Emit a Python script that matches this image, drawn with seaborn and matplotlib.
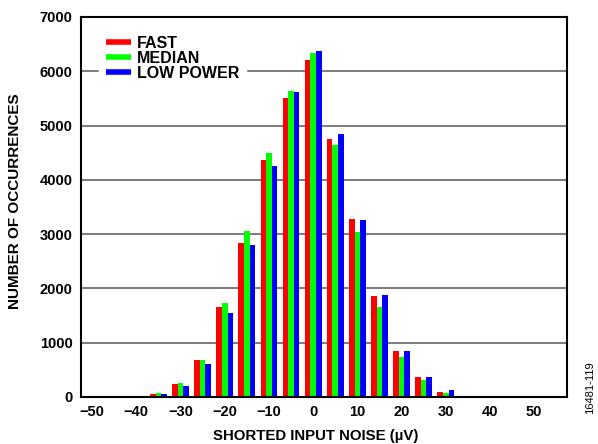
import numpy as np
import pandas as pd
import seaborn as sns
import matplotlib
matplotlib.use("Agg")
import matplotlib.pyplot as plt
from matplotlib.lines import Line2D
from matplotlib.ticker import FixedLocator

bins = [-50, -45, -40, -35, -30, -25, -20, -15, -10, -5, 0, 5, 10, 15, 20, 25, 30, 35, 40, 45, 50, 55]
fast = [0, 20, 18, 55, 240, 680, 1660, 2845, 4360, 5500, 6210, 4755, 3270, 1855, 845, 360, 90, 20, 18, 15, 0, 0]
median = [0, 18, 18, 70, 255, 680, 1735, 3060, 4500, 5640, 6340, 4645, 3040, 1665, 740, 310, 65, 18, 18, 0, 0, 0]
low_power = [0, 20, 20, 50, 195, 605, 1555, 2805, 4260, 5620, 6370, 4850, 3265, 1870, 840, 360, 120, 20, 18, 0, 0, 0]
series_names = ["FAST", "MEDIAN", "LOW POWER"]
colors = ["#FF0000", "#00FF00", "#0000FF"]
xtick_labels = ["\u221250", "\u221240", "\u221230", "\u221220", "\u221210", "0", "10", "20", "30", "40", "50"]

df = pd.DataFrame({
    "bin": bins * 3,
    "count": fast + median + low_power,
    "mode": [series_names[0]] * len(bins) + [series_names[1]] * len(bins) + [series_names[2]] * len(bins),
})

sns.set_style("white")
plt.rcParams['font.family'] = ['Liberation Sans', 'DejaVu Sans']
plt.rcParams['font.weight'] = 'bold'
plt.rcParams['text.color'] = 'black'
plt.rcParams['axes.labelcolor'] = 'black'
plt.rcParams['xtick.color'] = 'black'
plt.rcParams['ytick.color'] = 'black'

fig = plt.figure(figsize=(5.98, 4.44), dpi=100)
ax = fig.add_axes([0.1355, 0.106, 0.8132, 0.8558])

sns.barplot(data=df, x="bin", y="count", hue="mode", order=bins, hue_order=series_names,
            palette=colors, saturation=1, width=0.76, ax=ax, legend=False, linewidth=0)

ax.set_xlim(-0.5, len(bins) - 0.5)
ax.set_ylim(0, 7000)
ax.set_yticks(range(0, 7001, 1000))
ax.yaxis.grid(True, color="#666666", linewidth=1.2)
ax.set_axisbelow(True)

label_pos = list(range(0, 21, 2))
ax.xaxis.set_major_locator(FixedLocator(label_pos))
ax.set_xticklabels(xtick_labels)
ax.xaxis.set_minor_locator(FixedLocator([i + 0.5 for i in range(0, 21)]))
ax.tick_params(axis="x", which="major", length=0, labelsize=10.5, pad=6)
ax.tick_params(axis="x", which="minor", length=5, direction="inout", width=1, color="black")
ax.tick_params(axis="y", which="major", length=0, labelsize=10.5, pad=6)
for lab in ax.get_xticklabels() + ax.get_yticklabels():
    lab.set_fontweight("bold")

for s in ax.spines.values():
    s.set_color("black")
    s.set_linewidth(1.5)

ax.set_xlabel("SHORTED INPUT NOISE (\u00b5V)", fontsize=10.8, fontweight="bold")
ax.xaxis.set_label_coords(0.4825, -0.084)
ax.set_ylabel("NUMBER OF OCCURRENCES", fontsize=11, fontweight="bold")
ax.yaxis.set_label_coords(-0.121, 0.516)

handles = [Line2D([0], [0], color=c, linewidth=4, solid_capstyle="butt") for c in colors]
leg = ax.legend(handles, series_names, loc="upper left", bbox_to_anchor=(0.036, 0.969),
                borderaxespad=0, borderpad=0.45, frameon=True, fancybox=False, framealpha=1,
                edgecolor="white", facecolor="white", handlelength=1.56, handletextpad=0.38,
                labelspacing=0.0, prop={"weight": "bold", "size": 11.5})

fig.text(0.986, 0.126, "16481-119", rotation=90, fontsize=8, fontweight="normal",
         ha="center", va="center", color="black")

fig.savefig("out.png", dpi=100)
